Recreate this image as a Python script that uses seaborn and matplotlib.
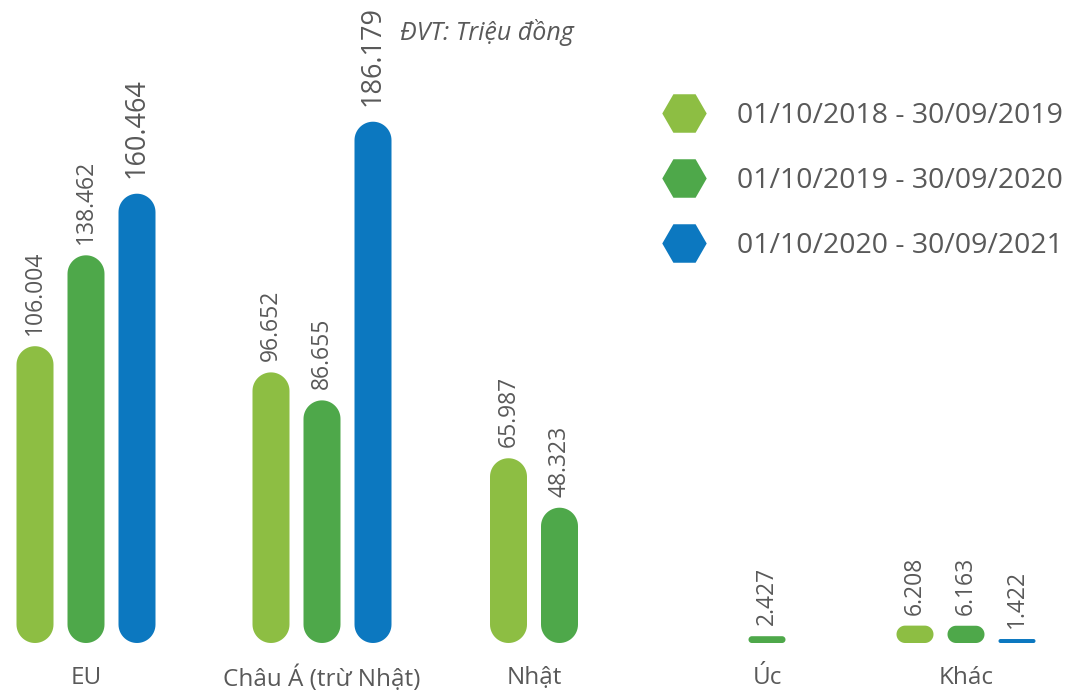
import numpy as np
import pandas as pd
import matplotlib
matplotlib.use("Agg")
import matplotlib.pyplot as plt
from matplotlib.patches import Polygon
from matplotlib.lines import Line2D
import seaborn as sns

# ---- data (triệu đồng) ----
regions = ["EU", "Châu Á (trừ Nhật)", "Nhật", "Úc", "Khác"]
periods = ["01/10/2018 - 30/09/2019",
           "01/10/2019 - 30/09/2020",
           "01/10/2020 - 30/09/2021"]
val_2019 = [106.004, 96.652, 65.987, np.nan, 6.208]
val_2020 = [138.462, 86.655, 48.323, 2.427, 6.163]
val_2021 = [160.464, 186.179, np.nan, np.nan, 1.422]
unit_note = "ĐVT: Triệu đồng"

colors = ["#8DBE43", "#4EA84A", "#0C78C0"]
text_color = "#595959"

# ---- layout (canvas measured in pixels across the width) ----
W, H, DPI = 1072, 693, 100
base_px = 50            # gap below the bar baseline
px_per_unit = 2.8       # vertical scale
group_centers = [86, 322, 534, 767, 966]
slot = 51               # distance between neighbouring bars in a group
bar_w = 37

sns.set_theme(style="white")
plt.rcParams["font.family"] = ["Open Sans", "DejaVu Sans"]

# long table; bars of a group are centred on the group position
rows = []
for gi, region in enumerate(regions):
    vals = [val_2019[gi], val_2020[gi], val_2021[gi]]
    present = [pi for pi, v in enumerate(vals) if not np.isnan(v)]
    n = len(present)
    for k, pi in enumerate(present):
        xpos = group_centers[gi] + (k - (n - 1) / 2) * slot
        rows.append({"region": region, "period": periods[pi],
                     "value": vals[pi], "xpos": xpos})
df = pd.DataFrame(rows)

fig = plt.figure(figsize=(W / DPI, H / DPI), dpi=DPI)
fig.patch.set_facecolor("white")
ax = fig.add_axes([0, base_px / H, 1, (H - base_px) / H])
ax.set_xlim(0, W)
ax.set_ylim(0, (H - base_px) / px_per_unit)

sns.barplot(data=df, x="xpos", y="value", hue="period", hue_order=periods,
            palette=dict(zip(periods, colors)), saturation=1,
            native_scale=True, dodge=False, width=bar_w / slot,
            errorbar=None, legend=False, ax=ax)


def pill(xc, w, h):
    """Rounded bar outline (data coords) with radius up to half the width."""
    hp = h * px_per_unit
    r = min(w / 2, hp / 2)
    x0, x1 = xc - w / 2, xc + w / 2
    pts = []
    for cx, cy, a0 in [(x1 - r, hp - r, 0), (x0 + r, hp - r, 90),
                       (x0 + r, r, 180), (x1 - r, r, 270)]:
        t = np.radians(np.linspace(a0, a0 + 90, 16))
        pts += list(zip(cx + r * np.cos(t), (cy + r * np.sin(t)) / px_per_unit))
    return np.array(pts)


bars = list(ax.patches)
for bar in bars:
    xc = bar.get_x() + bar.get_width() / 2
    h = bar.get_height()
    fc = bar.get_facecolor()
    bar.remove()
    ax.add_patch(Polygon(pill(xc, bar_w, h), closed=True, facecolor=fc,
                         edgecolor="none"))
    big = h > 150
    ax.annotate(f"{h:.3f}", xy=(xc, h), xytext=(0, 11 if big else 8),
                textcoords="offset points", rotation=90, ha="center",
                va="bottom", fontsize=19.5 if big else 16.5, color=text_color)

ax.set_xticks(group_centers, labels=regions)
ax.tick_params(axis="x", length=0, pad=16.5, labelsize=17.5, labelcolor=text_color)
ax.set_yticks([])
ax.set_xlabel("")
ax.set_ylabel("")
for s in ax.spines.values():
    s.set_visible(False)

fig.text(400 / W, 1 - 33 / H, unit_note, style="italic", fontsize=18,
         color=text_color, ha="left", va="center")

handles = [Line2D([], [], marker="H", linestyle="none", markersize=32,
                  markerfacecolor=c, markeredgecolor="none") for c in colors]
fig.legend(handles, periods, loc="center left",
           bbox_to_anchor=(662 / W, 1 - 181 / H), bbox_transform=fig.transFigure,
           frameon=False, fontsize=20.5, labelcolor=text_color,
           handlelength=1.58, handletextpad=1.05, labelspacing=1.31,
           borderpad=0, borderaxespad=0)

fig.savefig("out.png", dpi=DPI, facecolor="white")
